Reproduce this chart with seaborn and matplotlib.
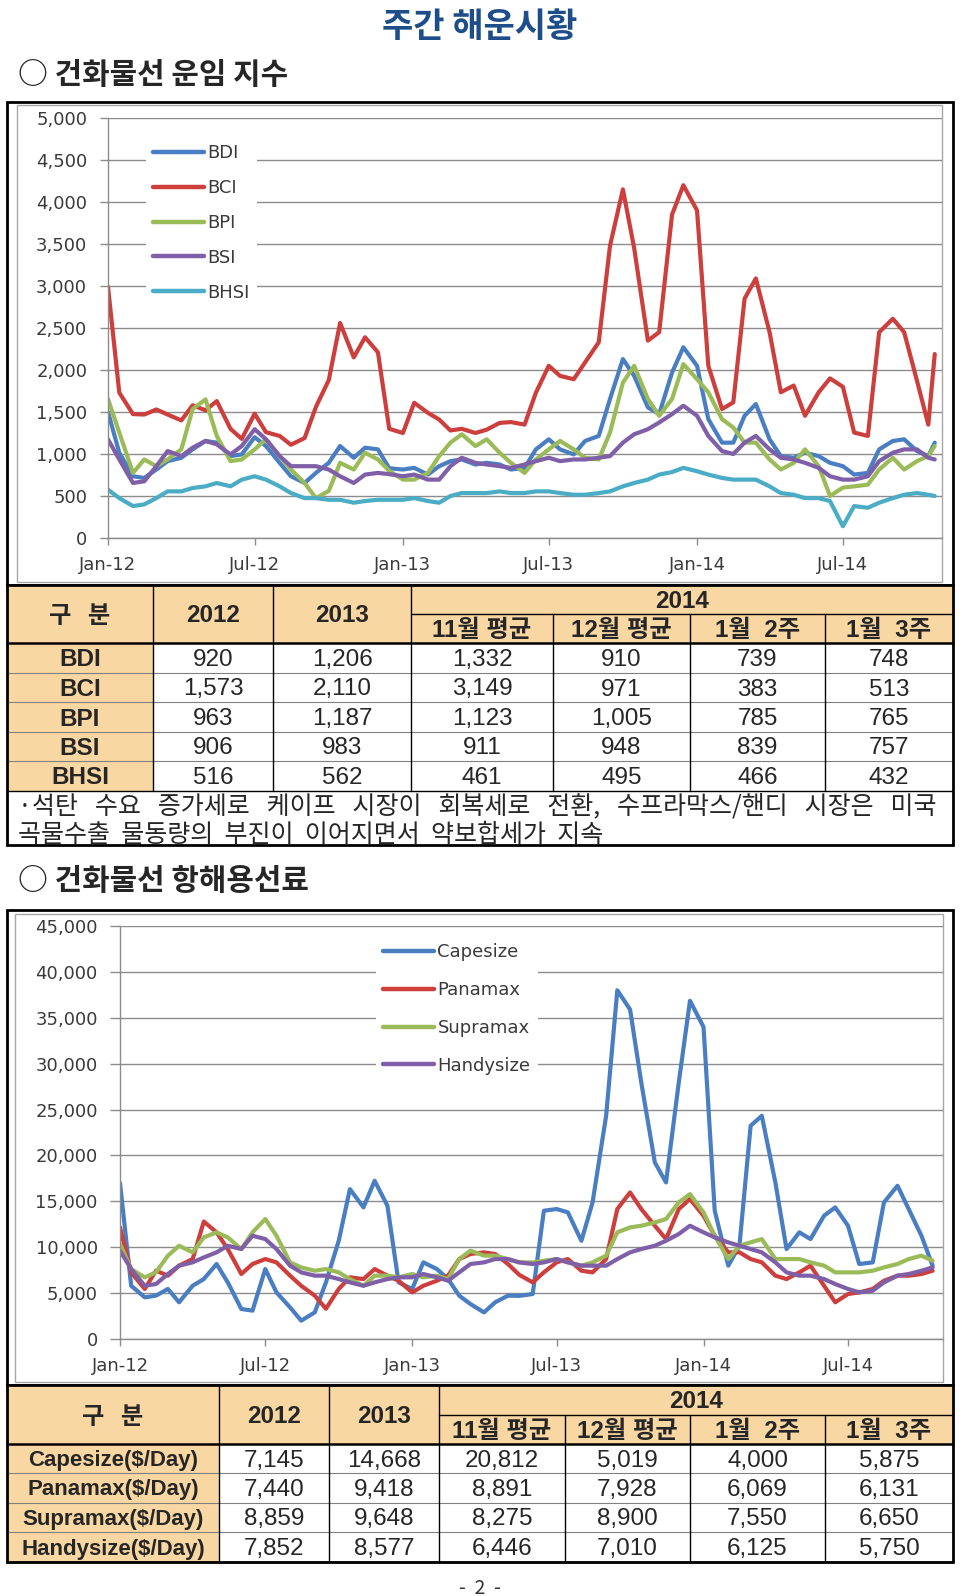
import numpy as np
import pandas as pd
import matplotlib
matplotlib.use('Agg')
import matplotlib.pyplot as plt
import matplotlib.dates as mdates
from matplotlib.patches import Rectangle
from matplotlib.lines import Line2D
from matplotlib.ticker import StrMethodFormatter
import seaborn as sns

sns.set_theme(style='white')
plt.rcParams['font.family'] = ['DejaVu Sans', 'Noto Sans CJK KR']

KR = ['Noto Sans CJK KR', 'DejaVu Sans']
TBL = ['Liberation Sans', 'Noto Sans CJK KR', 'DejaVu Sans']

# ---------------- chart 1 : dry bulk freight indices (semi-monthly readings) ----------------
idx_dates = pd.date_range('2012-01-01', '2014-10-15', freq='SMS').append(pd.DatetimeIndex(['2014-10-23']))
idx_names = ['BDI', 'BCI', 'BPI', 'BSI', 'BHSI']
idx_colors = ['#4A7EC2', '#CD3F3D', '#9BBB59', '#7F5FA8', '#4BACC6']

bdi = [1500, 1015, 735, 715, 815, 915, 955, 1055, 1155, 1135, 975, 995,
       1200, 1095, 895, 735, 655, 775, 895, 1095, 955, 1075, 1055, 830,
       815, 835, 755, 855, 915, 935, 875, 895, 875, 815, 835, 1055,
       1175, 1055, 995, 1155, 1215, 1655, 2130, 1930, 1555, 1475, 1970, 2270,
       2050, 1415, 1135, 1135, 1455, 1595, 1175, 975, 955, 1015, 975, 895,
       855, 755, 775, 1055, 1155, 1175, 1035, 975, 1135]
bci = [2990, 1730, 1475, 1470, 1530, 1470, 1400, 1580, 1520, 1630, 1300, 1180,
       1480, 1260, 1215, 1110, 1190, 1560, 1880, 2560, 2150, 2390, 2210, 1300,
       1250, 1610, 1490, 1410, 1280, 1300, 1250, 1290, 1370, 1380, 1350, 1730,
       2050, 1930, 1890, 2090, 2330, 3480, 4150, 3450, 2350, 2450, 3850, 4200,
       3900, 2050, 1535, 1615, 2850, 3090, 2450, 1735, 1815, 1455, 1735, 1900,
       1800, 1255, 1215, 2450, 2610, 2450, 1870, 1350, 2190]
bpi = [1655, 1255, 775, 935, 855, 935, 1055, 1535, 1650, 1215, 915, 935,
       1055, 1175, 975, 815, 655, 475, 560, 895, 815, 1015, 935, 800,
       695, 695, 775, 975, 1135, 1235, 1095, 1175, 1015, 895, 775, 935,
       1055, 1155, 1055, 955, 935, 1255, 1850, 2050, 1655, 1455, 1655, 2070,
       1890, 1735, 1415, 1315, 1135, 1135, 935, 815, 895, 1055, 855, 500,
       600, 615, 635, 815, 955, 815, 915, 975, 1095]
bsi = [1175, 935, 655, 675, 855, 1035, 975, 1075, 1155, 1115, 995, 1095,
       1295, 1175, 975, 855, 855, 855, 815, 735, 655, 755, 775, 760,
       735, 755, 695, 695, 855, 955, 895, 875, 855, 835, 875, 915,
       955, 915, 935, 935, 955, 975, 1135, 1235, 1295, 1375, 1475, 1575,
       1455, 1215, 1035, 1000, 1135, 1215, 1055, 955, 935, 895, 835, 735,
       695, 695, 735, 915, 1015, 1055, 1055, 955, 935]
bhsi = [575, 475, 380, 400, 475, 555, 555, 595, 615, 655, 615, 695,
        735, 695, 615, 535, 475, 475, 455, 455, 420, 440, 455, 455,
        455, 475, 440, 420, 500, 535, 535, 535, 555, 535, 535, 555,
        555, 535, 515, 515, 535, 555, 615, 655, 695, 755, 785, 835,
        795, 755, 715, 695, 695, 695, 615, 535, 515, 475, 475, 440,
        140, 380, 360, 420, 475, 515, 535, 515, 500]

# ---------------- chart 2 : time charter rates ($/day) ----------------
tc_dates = pd.date_range('2012-01-01', '2014-10-15', freq='SMS')
tc_names = ['Capesize', 'Panamax', 'Supramax', 'Handysize']
tc_colors = ['#4A7EC2', '#CD3F3D', '#9BBB59', '#7F5FA8']

capesize = [17000, 5800, 4540, 4720, 5450, 4000, 5800, 6530, 8170, 6170, 3270, 3090,
            7620, 5080, 3450, 2000, 2900, 6170, 10700, 16330, 14340, 17240, 14520, 6170,
            5450, 8350, 7620, 6530, 4720, 3810, 2900, 4000, 4720, 4700, 4900, 13975,
            14160, 13800, 10700, 14880, 24320, 38000, 35900, 27950, 19240, 17060, 27950, 36850,
            34000, 14000, 7990, 10160, 23230, 24320, 17060, 9800, 11620, 10890, 13430, 14340,
            12340, 8170, 8350, 14880, 16700, 14160, 11250, 7990]
panamax = [12160, 7260, 5450, 7440, 6900, 7990, 8710, 12800, 11620, 9800, 7080, 8170,
           8710, 8350, 6900, 5800, 4720, 3300, 5450, 6720, 6530, 7620, 6900, 6350,
           5080, 5800, 6350, 6900, 8710, 9260, 9440, 9260, 8170, 7000, 6170, 7260,
           8350, 8710, 7440, 7260, 8710, 14160, 15970, 14160, 12340, 10890, 14160, 15250,
           13430, 11250, 9440, 9440, 8710, 8350, 6900, 6530, 7260, 7990, 5800, 4000,
           4900, 5080, 5450, 6350, 6900, 6900, 7080, 7440]
supramax = [10350, 7620, 6720, 7260, 9080, 10160, 9440, 11070, 11620, 11070, 9800, 11620,
            13070, 11250, 8350, 7800, 7440, 7620, 7260, 6530, 5800, 6900, 6900, 6720,
            7080, 6720, 6900, 6530, 8710, 9620, 9080, 9080, 8710, 8350, 8350, 8530,
            8710, 8350, 7990, 8350, 9080, 11620, 12160, 12340, 12700, 13070, 14880, 15790,
            13790, 11250, 8710, 10160, 10530, 10890, 8710, 8710, 8710, 8350, 7990, 7260,
            7260, 7260, 7440, 7800, 8170, 8710, 9080, 8530]
handysize = [9620, 7620, 5800, 5990, 7080, 7990, 8350, 8890, 9440, 10160, 9800, 11250,
             10890, 9800, 7990, 7260, 6900, 6900, 6530, 6170, 5800, 6170, 6530, 6720,
             6720, 7080, 6720, 6350, 7260, 8170, 8350, 8710, 8710, 8350, 8170, 8350,
             8710, 8350, 7990, 7990, 7990, 8710, 9440, 9800, 10160, 10700, 11440, 12340,
             11620, 11070, 10530, 10160, 9800, 9440, 8350, 7260, 6900, 6900, 6530, 5990,
             5450, 5080, 5260, 6170, 6900, 7080, 7440, 7800]

tick_dates = ['2012-01-01', '2012-07-01', '2013-01-01', '2013-07-01', '2014-01-01', '2014-07-01']
tick_labels = ['Jan-12', 'Jul-12', 'Jan-13', 'Jul-13', 'Jan-14', 'Jul-14']

# ---------------- tables ----------------
col_heads = ['2012', '2013']
sub_heads = ['11월 평균', '12월 평균', '1월  2주', '1월  3주']

idx_rows = ['BDI', 'BCI', 'BPI', 'BSI', 'BHSI']
idx_table = [[920, 1206, 1332, 910, 739, 748],
             [1573, 2110, 3149, 971, 383, 513],
             [963, 1187, 1123, 1005, 785, 765],
             [906, 983, 911, 948, 839, 757],
             [516, 562, 461, 495, 466, 432]]
note_lines = ['·석탄   수요   증가세로   케이프   시장이   회복세로   전환,   수프라막스/핸디   시장은   미국',
              '곡물수출  물동량의  부진이  이어지면서  약보합세가  지속']

tc_rows = ['Capesize($/Day)', 'Panamax($/Day)', 'Supramax($/Day)', 'Handysize($/Day)']
tc_table = [[7145, 14668, 20812, 5019, 4000, 5875],
            [7440, 9418, 8891, 7928, 6069, 6131],
            [8859, 9648, 8275, 8900, 7550, 6650],
            [7852, 8577, 6446, 7010, 6125, 5750]]

W, H = 960, 1596
fig = plt.figure(figsize=(W / 100, H / 100), dpi=100)
page = fig.add_axes([0, 0, 1, 1], zorder=0)
page.set_xlim(0, W)
page.set_ylim(H, 0)
page.axis('off')


def box(l, t, r, b):
    return [l / W, 1 - b / H, (r - l) / W, (b - t) / H]


def rect(l, t, r, b, **kw):
    page.add_patch(Rectangle((l, t), r - l, b - t, **kw))


TAN = '#F9D7A3'
GRID = '#8C8C8C'
LAB = '#3A3A3A'

# ---------------- page texts ----------------
page.text(480, 26, '주간 해운시황', ha='center', va='center', fontsize=24.5,
          fontweight='bold', color='#1D4E89', family=KR)
page.text(18, 75, '○ 건화물선 운임 지수', ha='left', va='center', fontsize=21.5,
          fontweight='bold', family=KR)
page.text(18, 881, '○ 건화물선 항해용선료', ha='left', va='center', fontsize=21.5,
          fontweight='bold', family=KR)
page.text(480, 1588, '-  2  -', ha='center', va='center', fontsize=14, color='#333333', family=KR)


def line_chart(frame, inner, axbox, dates, names, colors, series, ymax, ystep, xmax,
               ylen, leg_x, leg_y, leg_ls):
    rect(*frame, fc='white', ec='black', lw=2, zorder=1)
    rect(*inner, fc='none', ec='#A6A6A6', lw=1, zorder=2)
    ax = fig.add_axes(box(*axbox), zorder=3)
    ax.patch.set_alpha(0)
    df = pd.DataFrame({'date': dates})
    for n, s in zip(names, series):
        df[n] = s
    long = df.melt('date', var_name='series', value_name='value')
    sns.lineplot(data=long, x='date', y='value', hue='series', hue_order=names,
                 palette=colors, lw=3, ax=ax, legend=False, estimator=None)
    ax.set_xlim(mdates.date2num(pd.Timestamp('2012-01-01')), mdates.date2num(pd.Timestamp(xmax)))
    ax.set_ylim(0, ymax)
    ax.set_yticks(np.arange(0, ymax + 1, ystep))
    ax.yaxis.set_major_formatter(StrMethodFormatter('{x:,.0f}'))
    ax.set_xticks(mdates.date2num(pd.to_datetime(tick_dates)))
    ax.set_xticklabels(tick_labels)
    ax.grid(axis='y', color=GRID, lw=1)
    ax.grid(axis='x', visible=False)
    ax.set_axisbelow(True)
    for s in ['top', 'right']:
        ax.spines[s].set_visible(False)
    for s in ['left', 'bottom']:
        ax.spines[s].set_color(GRID)
        ax.spines[s].set_linewidth(1)
    ax.tick_params(axis='y', left=True, direction='out', length=ylen, width=1, color=GRID,
                   pad=9, labelsize=13, labelcolor=LAB)
    ax.tick_params(axis='x', bottom=True, direction='out', length=5, width=1, color=GRID,
                   pad=8, labelsize=13, labelcolor=LAB)
    ax.set_xlabel('')
    ax.set_ylabel('')
    handles = [Line2D([0], [0], color=c, lw=3.2) for c in colors]
    leg = ax.legend(handles, names, loc='center left', bbox_to_anchor=(leg_x / W, 1 - leg_y / H),
                    bbox_transform=fig.transFigure, frameon=True, facecolor='white',
                    edgecolor='none', framealpha=1, fancybox=False, fontsize=13,
                    handlelength=2.8, handletextpad=0.2, labelspacing=leg_ls,
                    borderaxespad=0, borderpad=0.4)
    for t in leg.get_texts():
        t.set_color(LAB)
    return ax


line_chart((7, 102, 953, 585), (17, 105, 942, 582), (108, 118, 942, 538), idx_dates,
           idx_names, idx_colors, [bdi, bci, bpi, bsi, bhsi], 5000, 500, '2014-11-01',
           6, 146, 223, 0.93)
line_chart((7, 910, 953, 1385), (15, 914, 943, 1382), (120, 926, 943, 1339), tc_dates,
           tc_names, tc_colors, [capesize, panamax, supramax, handysize], 45000, 5000,
           '2014-10-28', 7, 376, 1009, 1.09)


def draw_table(top, hmid, row_edges, cols, rows, table, bottom, lab_fs):
    L, R = cols[0], cols[-1]
    hb = row_edges[0]
    rect(L, top, R, bottom, fc='white', ec='none', zorder=1)
    rect(L, top, R, hb, fc=TAN, ec='none', zorder=1)
    rect(L, hb, cols[1], row_edges[-1], fc=TAN, ec='none', zorder=1)
    for y in row_edges[1:-1]:
        page.plot([L, R], [y, y], color='#808080', lw=0.8, zorder=2)
    page.plot([L, R], [row_edges[-1], row_edges[-1]], color='black', lw=1, zorder=2)
    page.plot([cols[3], R], [hmid, hmid], color='black', lw=1, zorder=2)
    page.plot([L, R], [hb, hb], color='black', lw=1.8, zorder=2)
    for i, x in enumerate(cols[1:-1], start=1):
        y0 = top if i <= 3 else hmid
        page.plot([x, x], [y0, row_edges[-1]], color='black', lw=1, zorder=2)
    rect(L, top, R, bottom, fc='none', ec='black', lw=2, zorder=3)
    fs = 17.5
    dy = 2
    page.text((cols[0] + cols[1]) / 2, (top + hb) / 2 + dy, '구   분', ha='center', va='center',
              fontsize=fs, fontweight='bold', family=KR, zorder=4)
    for j, h in enumerate(col_heads):
        page.text((cols[j + 1] + cols[j + 2]) / 2, (top + hb) / 2 + dy, h, ha='center',
                  va='center', fontsize=fs, fontweight='bold', family=TBL, zorder=4)
    page.text((cols[3] + R) / 2, (top + hmid) / 2 + dy, '2014', ha='center', va='center',
              fontsize=fs, fontweight='bold', family=TBL, zorder=4)
    for j, h in enumerate(sub_heads):
        page.text((cols[j + 3] + cols[j + 4]) / 2, (hmid + hb) / 2 + dy, h, ha='center',
                  va='center', fontsize=fs, fontweight='bold', family=TBL, zorder=4)
    for i, r in enumerate(rows):
        yc = (row_edges[i] + row_edges[i + 1]) / 2 + dy
        page.text((cols[0] + cols[1]) / 2, yc, r, ha='center', va='center', fontsize=lab_fs,
                  fontweight='bold', family=TBL, zorder=4)
        for j, v in enumerate(table[i]):
            page.text((cols[j + 1] + cols[j + 2]) / 2, yc, f'{v:,}', ha='center', va='center',
                      fontsize=fs, family=TBL, zorder=4)


draw_table(585, 614, [643, 673, 702, 732, 761, 791], [7, 153, 273, 411, 553, 690, 825, 953],
           idx_rows, idx_table, 845, 17.5)
page.text(18, 821, '\n'.join(note_lines), ha='left', va='center', fontsize=18,
          linespacing=1.06, family=KR, zorder=4)

draw_table(1385, 1415, [1444, 1473, 1503, 1532, 1562], [7, 219, 329, 439, 565, 690, 825, 953],
           tc_rows, tc_table, 1562, 16)

fig.savefig('out.png', dpi=100)
